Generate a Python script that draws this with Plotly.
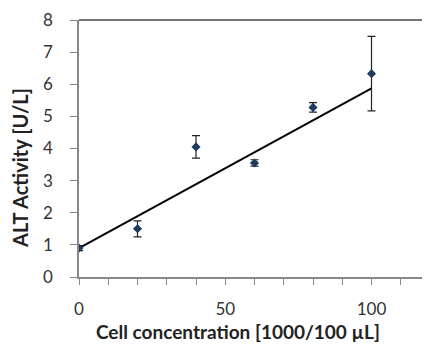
import plotly.graph_objects as go

conc = [0, 20, 40, 60, 80, 100]
activity = [0.9, 1.5, 4.05, 3.55, 5.28, 6.33]
err = [0.08, 0.25, 0.35, 0.1, 0.15, 1.16]
trend_x = [0, 100]
trend_y = [0.9, 5.87]
y_ticks = [0, 1, 2, 3, 4, 5, 6, 7, 8]
x_ticks = [0, 50, 100]

fig = go.Figure()
fig.add_trace(go.Scatter(x=trend_x, y=trend_y, mode="lines",
                         line=dict(color="black", width=2), showlegend=False))
fig.add_trace(go.Scatter(x=conc, y=activity, mode="markers",
                         marker=dict(symbol="diamond", size=7, color="#1f3a5c"),
                         error_y=dict(type="data", array=err, color="#222222",
                                      thickness=1.2, width=4),
                         showlegend=False))

font = "Lato, 'Open Sans', sans-serif"
fig.update_layout(
    width=422, height=337,
    margin=dict(l=71, r=0, t=12, b=68),
    plot_bgcolor="white", paper_bgcolor="white",
    font=dict(family=font, size=17, color="#333333"),
    xaxis=dict(range=[0, 120], tickvals=x_ticks, showline=True, linecolor="#888888",
               linewidth=1.5, mirror=False, showgrid=False, zeroline=False,
               ticks="outside", ticklen=6, tickcolor="#888888",
               minor=dict(dtick=10, ticks="outside", ticklen=6, tickcolor="#888888"),
               ticklabelstandoff=10, automargin=False),
    yaxis=dict(range=[0, 8], tickvals=y_ticks, showline=True, linecolor="#888888",
               linewidth=1.5, showgrid=False, zeroline=False,
               ticks="outside", ticklen=7, tickcolor="#888888",
               ticklabelstandoff=14, automargin=False),
    shapes=[
        dict(type="line", xref="paper", yref="paper", x0=0, x1=1, y0=1, y1=1,
             line=dict(color="#777777", width=2)),
        dict(type="line", xref="paper", yref="paper", x0=1, x1=1, y0=0, y1=1,
             line=dict(color="#dddddd", width=1)),
    ],
    annotations=[
        dict(text="<b>Cell concentration [1000/100 µL]</b>", xref="paper", yref="paper",
             x=(238 - 79) / 351, y=(277 - 331) / 257, showarrow=False,
             xanchor="center", yanchor="middle",
             font=dict(family=font, size=19, color="#222222")),
        dict(text="<b>ALT Activity [U/L]</b>", xref="paper", yref="paper",
             x=(20 - 79) / 351, y=(277 - 168) / 257, showarrow=False, textangle=-90,
             xanchor="center", yanchor="middle",
             font=dict(family=font, size=20, color="#222222")),
    ],
)

fig.write_html("out.html")
